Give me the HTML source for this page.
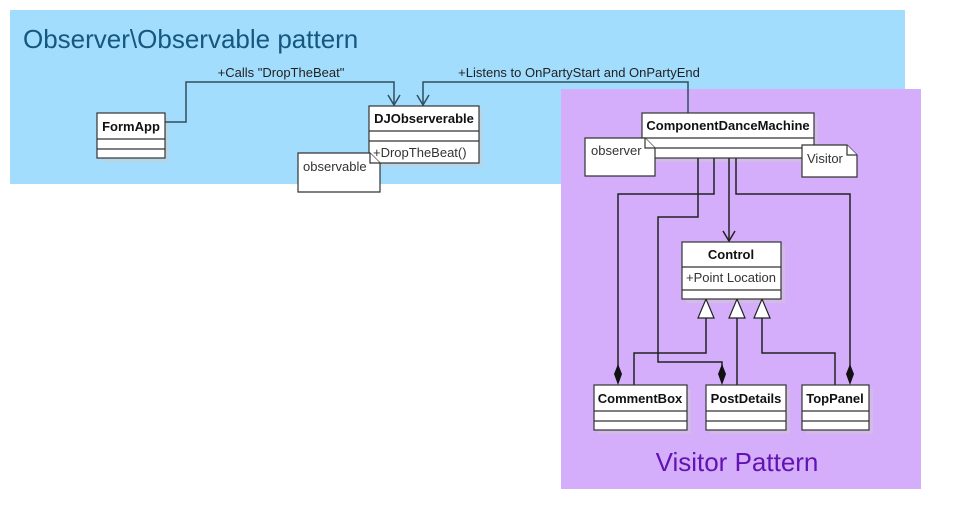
<!DOCTYPE html>
<html><head><style>body{margin:0;background:#fff}svg{display:block;font-family:"Liberation Sans",sans-serif}</style></head><body>
<svg width="961" height="529" viewBox="0 0 961 529">
<rect x="10" y="10" width="895" height="174" fill="#a3ddfd"/>
<rect x="561" y="89" width="360" height="400" fill="#d5aefb"/>
<text x="23" y="48" font-size="26" fill="#15577f">Observer\Observable pattern</text>
<text x="737" y="471" font-size="26" fill="#6214b0" text-anchor="middle">Visitor Pattern</text>
<g fill="#cfcfcf" opacity="0.45">
<rect x="101" y="117" width="68" height="45"/><rect x="373" y="110" width="110" height="57"/>
<rect x="646" y="117" width="172" height="45"/><rect x="686" y="246" width="99" height="57"/>
<rect x="598" y="389" width="93" height="45"/><rect x="710" y="389" width="80" height="45"/><rect x="806" y="389" width="67" height="45"/>
</g>
<g fill="none" stroke="#2f4f5f" stroke-width="1.5">
<polyline points="165,122 186,122 186,82 394,82 394,105"/>
<polyline points="388,95 394,105 400,95"/>
<polyline points="688,113 688,82 423,82 423,105"/>
<polyline points="417,95 423,105 429,95"/>
</g>
<text x="281" y="77" font-size="13" fill="#222" text-anchor="middle">+Calls "DropTheBeat"</text>
<text x="579" y="77" font-size="13" fill="#222" text-anchor="middle">+Listens to OnPartyStart and OnPartyEnd</text>
<g fill="none" stroke="#222" stroke-width="1.5">
<polyline points="714,158 714,194 618,194 618,368"/>
<polyline points="698,158 698,217 658,217 658,362 722,362 722,368"/>
<polyline points="729,158 729,241"/>
<polyline points="723,231 729,241 735,231"/>
<polyline points="736,158 736,194 850,194 850,368"/>
<polyline points="634,385 634,353 706,353 706,318"/>
<polyline points="737,385 737,318"/>
<polyline points="835,385 835,353 762,353 762,318"/>
</g>
<g fill="#111"><polygon points="618,364 622,374 618,385 614,374"/><polygon points="722,364 726,374 722,385 718,374"/><polygon points="850,364 854,374 850,385 846,374"/></g>
<g fill="#fff" stroke="#222" stroke-width="1.2"><polygon points="706,299 714,318 698,318"/><polygon points="737,299 745,318 729,318"/><polygon points="762,299 770,318 754,318"/></g>
<g fill="#fff" stroke="#333" stroke-width="1.2">
<rect x="97" y="113" width="68" height="45"/><line x1="97" y1="139" x2="165" y2="139"/><line x1="97" y1="149" x2="165" y2="149"/>
<rect x="369" y="106" width="110" height="57"/><line x1="369" y1="131" x2="479" y2="131"/><line x1="369" y1="141" x2="479" y2="141"/>
<rect x="642" y="113" width="172" height="45"/><line x1="642" y1="138" x2="814" y2="138"/><line x1="642" y1="148" x2="814" y2="148"/>
<rect x="682" y="242" width="99" height="57"/><line x1="682" y1="267" x2="781" y2="267"/><line x1="682" y1="290" x2="781" y2="290"/>
<rect x="594" y="385" width="93" height="45"/><line x1="594" y1="411" x2="687" y2="411"/><line x1="594" y1="421" x2="687" y2="421"/>
<rect x="706" y="385" width="80" height="45"/><line x1="706" y1="411" x2="786" y2="411"/><line x1="706" y1="421" x2="786" y2="421"/>
<rect x="802" y="385" width="67" height="45"/><line x1="802" y1="411" x2="869" y2="411"/><line x1="802" y1="421" x2="869" y2="421"/>
<polygon points="298,153 370,153 380,163 380,192 298,192"/><polyline points="370,153 370,163 380,163"/>
<polygon points="585,138 645,138 655,148 655,176 585,176"/><polyline points="645,138 645,148 655,148"/>
<polygon points="802,145 847,145 857,155 857,177 802,177"/><polyline points="847,145 847,155 857,155"/>
</g>
<g font-size="13" fill="#111" font-weight="bold" text-anchor="middle">
<text x="131" y="131">FormApp</text><text x="424" y="123">DJObserverable</text>
<text x="728" y="130">ComponentDanceMachine</text><text x="731" y="259">Control</text>
<text x="640" y="403">CommentBox</text><text x="746" y="403">PostDetails</text><text x="835" y="403">TopPanel</text>
</g>
<g font-size="13" fill="#333">
<text x="373" y="157">+DropTheBeat()</text><text x="686" y="282">+Point Location</text>
<text x="303" y="171">observable</text><text x="591" y="155">observer</text><text x="807" y="163">Visitor</text>
</g>
</svg>
</body></html>
